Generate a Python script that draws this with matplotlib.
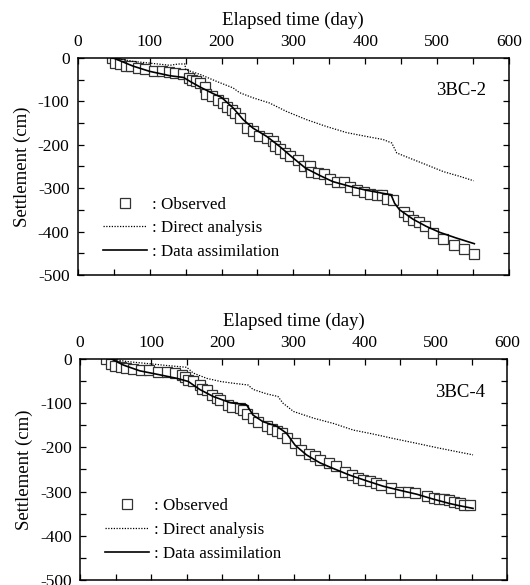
import matplotlib
matplotlib.use('Agg')
import matplotlib.pyplot as plt
import numpy as np
from matplotlib.ticker import MultipleLocator

plt.rcParams['font.family'] = ['Liberation Serif', 'DejaVu Serif']
plt.rcParams['axes.unicode_minus'] = False
plt.rcParams['font.size'] = 12.5

# ---- 3BC-2 ----
obs2_t = [48, 52, 59, 67, 74, 83, 94, 106, 117, 127, 135, 146, 154, 159, 164, 170, 177, 179,
          187, 195, 202, 208, 215, 219, 226, 236, 244, 252, 263, 271, 275, 281, 288, 296, 307,
          315, 323, 325, 334, 342, 351, 361, 370, 379, 389, 398, 407, 416, 424, 431, 439,
          454, 460, 467, 475, 484, 495, 508, 523, 537, 551]
obs2_s = [0, -11, -15, -18, -19, -23, -25, -29, -31, -33, -35, -36, -46, -50, -54, -58, -67, -82,
          -88, -96, -105, -113, -119, -128, -138, -162, -169, -179, -185, -192, -202, -210, -219,
          -227, -235, -248, -248, -262, -265, -268, -278, -285, -287, -298, -304, -308, -314,
          -315, -315, -325, -327, -356, -365, -373, -378, -387, -404, -418, -431, -441, -452]
da2_t = [49, 77, 100, 128, 147, 156, 170, 188, 200, 216, 230, 244, 263, 281, 300, 317, 337,
         355, 379, 402, 425, 436, 441, 448, 467, 485, 504, 527, 552]
da2_s = [0, -19, -31, -41, -45, -54, -67, -82, -91, -115, -142, -162, -181, -204, -231, -254,
         -271, -285, -296, -305, -312, -315, -335, -350, -372, -388, -402, -415, -428]
dir2_t = [49, 77, 100, 128, 140, 149, 150, 170, 193, 216, 225, 244, 267, 290, 318, 346, 374,
          402, 425, 437, 444, 462, 485, 509, 532, 551]
dir2_s = [0, -8, -12, -17, -14, -14, -27, -38, -54, -69, -80, -92, -104, -123, -142, -158, -172,
          -181, -188, -196, -219, -231, -246, -262, -273, -283]

# ---- 3BC-4 ----
obs4_t = [37, 43, 49, 58, 65, 75, 86, 97, 110, 122, 134, 143, 147, 152, 159, 168, 172, 178,
          186, 192, 197, 208, 214, 225, 229, 235, 243, 250, 262, 270, 277, 283, 290, 302, 311,
          321, 330, 337, 349, 360, 372, 382, 391, 398, 407, 416, 423, 437, 449, 460, 470, 487,
          497, 504, 511, 518, 525, 533, 540, 548]
obs4_s = [0, -11, -16, -19, -21, -23, -25, -26, -29, -29, -32, -36, -42, -48, -51, -59, -68, -70,
          -82, -89, -94, -104, -109, -112, -115, -125, -134, -142, -152, -159, -162, -168, -178,
          -191, -205, -214, -220, -229, -236, -242, -255, -263, -269, -274, -276, -280, -285,
          -291, -300, -300, -304, -309, -315, -317, -317, -319, -323, -325, -331, -331]
da4_t = [44, 61, 84, 112, 136, 152, 168, 187, 211, 234, 243, 257, 276, 290, 302, 318, 337, 356,
         379, 403, 426, 449, 473, 496, 519, 533, 552]
da4_s = [0, -14, -27, -36, -44, -51, -69, -85, -99, -104, -127, -142, -152, -168, -195, -217,
         -235, -248, -263, -276, -288, -297, -306, -317, -327, -332, -338]
dir4_t = [44, 66, 98, 122, 150, 159, 178, 197, 215, 236, 243, 262, 278, 285, 300, 328, 356, 384,
          412, 440, 473, 505, 552]
dir4_s = [0, -6, -11, -15, -19, -32, -44, -51, -55, -59, -69, -79, -85, -100, -119, -134, -146,
          -161, -170, -180, -191, -202, -217]

fig = plt.figure(figsize=(5.3, 5.85), dpi=100)
ax1 = fig.add_axes([0.147, 0.530, 0.813, 0.371])
ax2 = fig.add_axes([0.151, 0.0085, 0.806, 0.378])

panels = [(ax1, obs2_t, obs2_s, da2_t, da2_s, dir2_t, dir2_s, '3BC-2', 0.015),
          (ax2, obs4_t, obs4_s, da4_t, da4_s, dir4_t, dir4_s, '3BC-4', 0.03)]

for ax, ot, os_, dt, ds, rt, rs, name, leg_y in panels:
    ax.plot(ot, os_, 's', ms=7.5, mfc='white', mec='#333333', mew=0.9, ls='none',
            label=': Observed', zorder=2)
    ax.plot(rt, rs, color='black', lw=0.9, ls=(0, (1, 1.2)), label=': Direct analysis', zorder=3)
    ax.plot(dt, ds, color='black', lw=1.2, label=': Data assimilation', zorder=3)
    ax.set_xlim(0, 600)
    ax.set_ylim(-500, 0)
    ax.xaxis.set_major_locator(MultipleLocator(100))
    ax.xaxis.set_minor_locator(MultipleLocator(50))
    ax.yaxis.set_major_locator(MultipleLocator(100))
    ax.yaxis.set_minor_locator(MultipleLocator(50))
    ax.xaxis.set_label_position('top')
    ax.tick_params(which='both', direction='in', top=True, bottom=True, left=True, right=True,
                   labeltop=True, labelbottom=False, length=4, width=0.9)
    ax.tick_params(axis='x', pad=6)
    ax.tick_params(axis='y', pad=6)
    for sp in ax.spines.values():
        sp.set_linewidth(1.1)
    ax.set_xlabel('Elapsed time (day)', fontsize=13.5, labelpad=6)
    ax.set_ylabel('Settlement (cm)', fontsize=13.5, labelpad=5)
    ax.text(0.948, 0.85, name, transform=ax.transAxes, ha='right', va='center', fontsize=13.5)
    ax.legend(loc='lower left', bbox_to_anchor=(0.03, leg_y), frameon=False, fontsize=12.2,
              handlelength=2.6, handletextpad=0.3, labelspacing=0.45, borderpad=0.2)

fig.savefig('out.png', dpi=100)
